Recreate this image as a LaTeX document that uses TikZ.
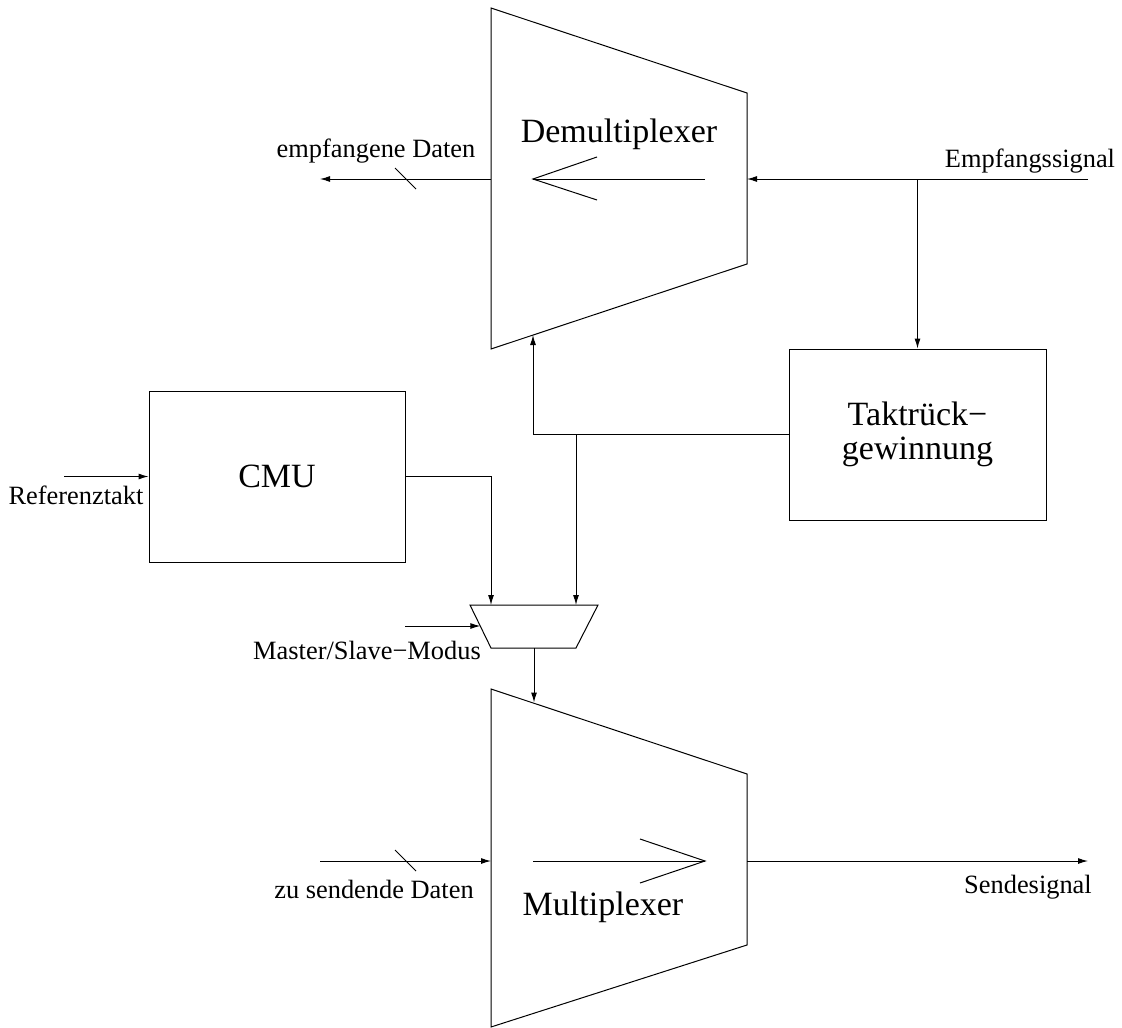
\documentclass[tikz,border=0pt]{standalone}
\usepackage{fontspec}
\setmainfont{Liberation Serif}
\usetikzlibrary{arrows.meta}
\begin{document}
\begin{tikzpicture}[x=0.75pt,y=-0.75pt,line width=0.75pt,
  arr/.style={-{Latex[length=7.5pt,width=4.5pt]}},
  lbl/.style={font=\fontsize{19.8}{22}\selectfont,inner sep=0pt,anchor=base},
  big/.style={font=\fontsize{25.5}{25.5}\selectfont,inner sep=0pt,anchor=base},
  blk/.style={draw,rectangle,inner sep=0pt,minimum width=192pt,minimum height=128.25pt,
    font=\fontsize{25.5}{25.5}\selectfont,align=center}]
\useasboundingbox (0,0) rectangle (1122,1028);
% Demultiplexer
\coordinate (dTL) at (491,8);
\coordinate (dTR) at (747,93);
\coordinate (dBR) at (747,264);
\coordinate (dBL) at (491,349);
\draw (dTL) -- (dTR) -- (dBR) -- (dBL) -- cycle;
\node[big] (demuxT) at (619,142) {Demultiplexer};
% Multiplexer
\coordinate (mTL) at (491,689);
\coordinate (mTR) at (747,774);
\coordinate (mBR) at (747,945);
\coordinate (mBL) at (491,1027);
\draw (mTL) -- (mTR) -- (mBR) -- (mBL) -- cycle;
\node[big] (muxT) at (603,915) {Multiplexer};
% small selector
\coordinate (sTL) at (470,605);
\coordinate (sTR) at (598,605);
\coordinate (sBR) at (576,648);
\coordinate (sBL) at (491,648);
\draw (sTL) -- (sTR) -- (sBR) -- (sBL) -- cycle;
% boxes
\node[blk] (cmu) at (277,476.5) {CMU};
\node[blk,minimum width=192.75pt] (takt) at (917.5,434.5) {Taktrück−\\gewinnung};
% internal arrows
\coordinate (dA1) at (705,179);
\coordinate (dA2) at (533,179);
\coordinate (dW1) at (597,157);
\coordinate (dW2) at (597,200);
\draw (dA1) -- (dA2);
\draw (dW1) -- (dA2) -- (dW2);
\coordinate (mA1) at (533,861);
\coordinate (mA2) at (705,861);
\coordinate (mW1) at (640,839);
\coordinate (mW2) at (640,883);
\draw (mA1) -- (mA2);
\draw (mW1) -- (mA2) -- (mW2);
% Empfangssignal
\coordinate (esIn) at (1088,179);
\coordinate (dIn) at (747,179);
\coordinate (esBr) at (917.5,179);
\draw[arr] (esIn) -- (dIn);
\draw[arr] (esBr) -- (takt.north);
\node[lbl] (esL) at (1030,167) {Empfangssignal};
% empfangene Daten
\coordinate (dOut) at (491,179);
\coordinate (edEnd) at (320,179);
\draw[arr] (dOut) -- (edEnd);
\coordinate (sl1a) at (395,168);
\coordinate (sl1b) at (416,189);
\draw (sl1a) -- (sl1b);
\node[lbl] (edL) at (376,157) {empfangene Daten};
% clock recovery to demux
\coordinate (j1) at (533,434.5);
\coordinate (dClk) at (533,335);
\draw[arr] (takt.west) -- (j1) -- (dClk);
\coordinate (j2) at (576,434.5);
\coordinate (sIn2) at (576,605);
\draw[arr] (j2) -- (sIn2);
% CMU to selector
\coordinate (sIn1) at (491,605);
\draw[arr] (cmu.east) -| (sIn1);
% Referenztakt
\coordinate (ref) at (64,476.5);
\draw[arr] (ref) -- (cmu.west);
\node[lbl] (refL) at (76,504) {Referenztakt};
% Master/Slave
\coordinate (msIn) at (405,626);
\coordinate (msEnd) at (480.3,626);
\draw[arr] (msIn) -- (msEnd);
\node[lbl] (msL) at (367,659) {Master/Slave−Modus};
% selector to mux
\coordinate (sOut) at (534,648);
\coordinate (mClk) at (534,702.5);
\draw[arr] (sOut) -- (mClk);
% zu sendende Daten
\coordinate (zsIn) at (320,861);
\coordinate (mIn) at (491,861);
\draw[arr] (zsIn) -- (mIn);
\coordinate (sl2a) at (395,850);
\coordinate (sl2b) at (416,871);
\draw (sl2a) -- (sl2b);
\node[lbl] (zsL) at (374,898) {zu sendende Daten};
% Sendesignal
\coordinate (mOut) at (747,861);
\coordinate (ssEnd) at (1088,861);
\draw[arr] (mOut) -- (ssEnd);
\node[lbl] (ssL) at (1028,893) {Sendesignal};
\end{tikzpicture}
\end{document}
